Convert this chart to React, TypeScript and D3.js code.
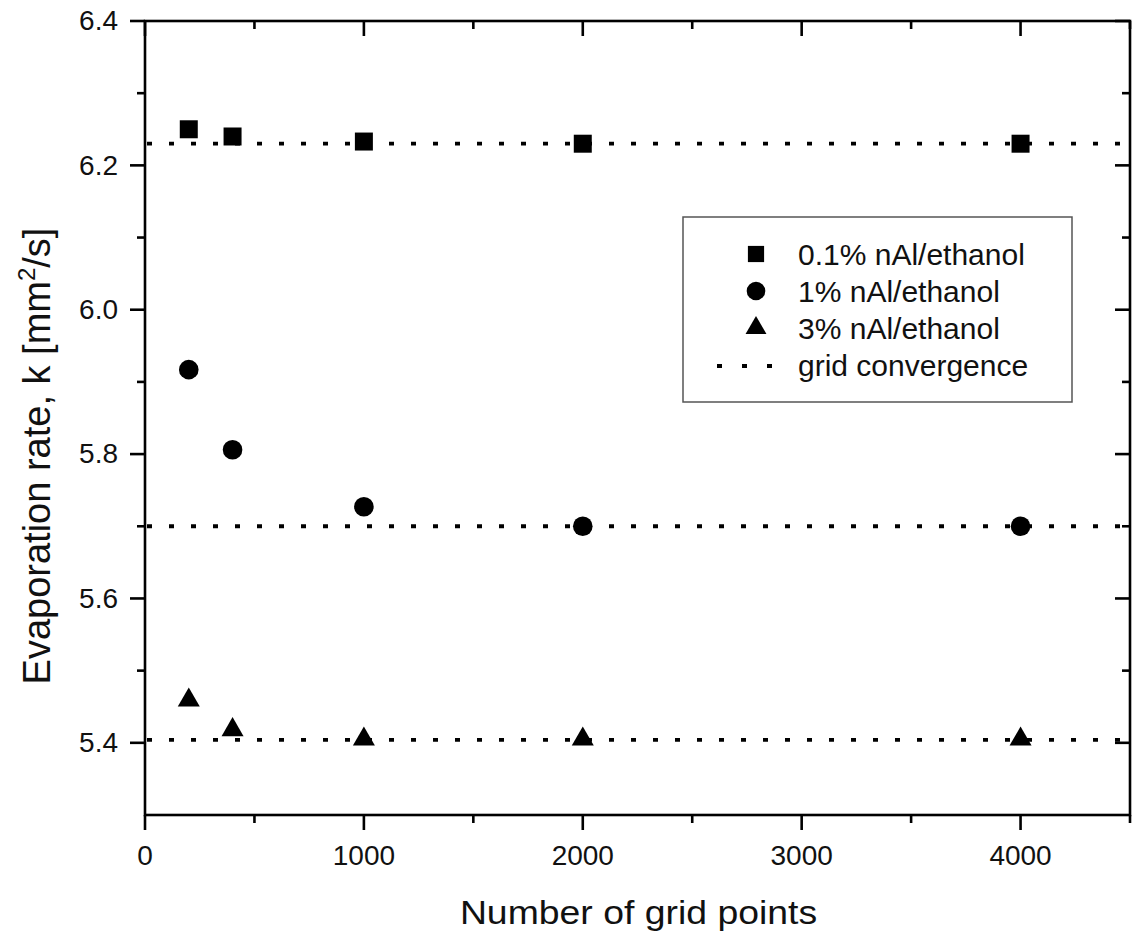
import React from "react";
import * as d3 from "d3";

const gridPoints = [200, 400, 1000, 2000, 4000];
const rate01 = [6.25, 6.24, 6.233, 6.23, 6.23];
const rate1 = [5.917, 5.806, 5.727, 5.7, 5.7];
const rate3 = [5.459, 5.418, 5.405, 5.405, 5.405];
const convergence = [6.23, 5.7, 5.404];
const xMajor = [0, 1000, 2000, 3000, 4000];
const xMinor = [500, 1500, 2500, 3500, 4500];
const yMajor = [5.4, 5.6, 5.8, 6.0, 6.2, 6.4];
const yMinor = [5.5, 5.7, 5.9, 6.1, 6.3];
const legendLabels = ["0.1% nAl/ethanol", "1% nAl/ethanol", "3% nAl/ethanol", "grid convergence"];

const W = 1135;
const H = 936;
const L = 145, R = 1130, T = 21, B = 815;
const FONT = "'Liberation Sans', Arial, Helvetica, sans-serif";

export default function App() {
  const x = d3.scaleLinear().domain([0, 4500]).range([L, R]);
  const y = d3.scaleLinear().domain([5.3, 6.4]).range([B, T]);

  const sq = d3.symbol().type(d3.symbolSquare).size(18 * 18)() as string;
  const circ = d3.symbol().type(d3.symbolCircle).size(Math.PI * 9.8 * 9.8)() as string;
  const tri = d3.symbol().type(d3.symbolTriangle).size((Math.sqrt(3) / 4) * 22 * 22)() as string;

  const series = [
    { vals: rate01, path: sq },
    { vals: rate1, path: circ },
    { vals: rate3, path: tri },
  ];

  const majorLen = 15;
  const minorLen = 8;
  const axisW = 2.6;

  const legendRows = [265, 302, 339, 376];
  const legSymX = 756;
  const legTextX = 798;

  return (
    <svg
      width={W}
      height={H}
      style={{ position: "absolute", left: 0, top: 0, background: "#fff" }}
      fontFamily={FONT}
    >
      <rect x={0} y={0} width={W} height={H} fill="#fff" />

      {/* convergence lines */}
      {convergence.map((v, i) => (
        <line
          key={"c" + i}
          x1={L + 2}
          x2={R}
          y1={y(v)}
          y2={y(v)}
          stroke="#000"
          strokeWidth={3.8}
          strokeDasharray="5 17"
        />
      ))}

      {/* markers */}
      {series.map((s, si) =>
        s.vals.map((v, i) => (
          <path
            key={"m" + si + "-" + i}
            d={s.path}
            transform={`translate(${x(gridPoints[i])},${y(v)})`}
            fill="#000"
          />
        ))
      )}

      {/* frame */}
      <rect x={L} y={T} width={R - L} height={B - T} fill="none" stroke="#000" strokeWidth={axisW} />

      {/* bottom ticks (outward) & top ticks (inward) */}
      {xMajor.map((v) => (
        <g key={"xm" + v}>
          <line x1={x(v)} x2={x(v)} y1={B} y2={B + majorLen} stroke="#000" strokeWidth={axisW} />
          <line x1={x(v)} x2={x(v)} y1={T} y2={T + majorLen} stroke="#000" strokeWidth={axisW} />
          <text x={x(v)} y={865} textAnchor="middle" fontSize={28} fill="#111">
            {String(v)}
          </text>
        </g>
      ))}
      {xMinor.map((v) => (
        <g key={"xn" + v}>
          <line x1={x(v)} x2={x(v)} y1={B} y2={B + minorLen} stroke="#000" strokeWidth={axisW} />
          <line x1={x(v)} x2={x(v)} y1={T} y2={T + minorLen} stroke="#000" strokeWidth={axisW} />
        </g>
      ))}

      {/* left ticks (outward) & right ticks (inward) */}
      {yMajor.map((v) => (
        <g key={"ym" + v}>
          <line x1={L - majorLen} x2={L} y1={y(v)} y2={y(v)} stroke="#000" strokeWidth={axisW} />
          <line x1={R - majorLen} x2={R} y1={y(v)} y2={y(v)} stroke="#000" strokeWidth={axisW} />
          <text x={118} y={y(v)} dy="0.33em" textAnchor="end" fontSize={28} fill="#111">
            {v.toFixed(1)}
          </text>
        </g>
      ))}
      {yMinor.map((v) => (
        <g key={"yn" + v}>
          <line x1={L - minorLen} x2={L} y1={y(v)} y2={y(v)} stroke="#000" strokeWidth={axisW} />
          <line x1={R - minorLen} x2={R} y1={y(v)} y2={y(v)} stroke="#000" strokeWidth={axisW} />
        </g>
      ))}

      {/* axis titles */}
      <text
        transform={`translate(${(L + R) / 2 + 1},924) scale(1.15,1)`}
        textAnchor="middle"
        fontSize={32.5}
        fill="#111"
      >
        Number of grid points
      </text>
      <text
        transform={`translate(50,456) rotate(-90)`}
        textAnchor="middle"
        fontSize={38}
        fill="#111"
      >
        Evaporation rate, k [mm
        <tspan dy={-15} fontSize={24}>2</tspan>
        <tspan dy={15}>/s]</tspan>
      </text>

      {/* legend */}
      <rect x={683} y={217} width={389} height={185} fill="#fff" stroke="#555" strokeWidth={1.5} />
      {[sq, circ, tri].map((p, i) => (
        <path
          key={"lg" + i}
          d={p}
          transform={`translate(${legSymX},${legendRows[i] - 11}) scale(${i === 0 ? 0.9 : 0.95})`}
          fill="#000"
        />
      ))}
      <line
        x1={717}
        x2={772}
        y1={legendRows[3] - 10}
        y2={legendRows[3] - 10}
        stroke="#000"
        strokeWidth={3.8}
        strokeDasharray="5 20"
      />
      {legendLabels.map((t, i) => (
        <text key={"lt" + i} x={legTextX} y={legendRows[i]} fontSize={30} fill="#111">
          {t}
        </text>
      ))}
    </svg>
  );
}
